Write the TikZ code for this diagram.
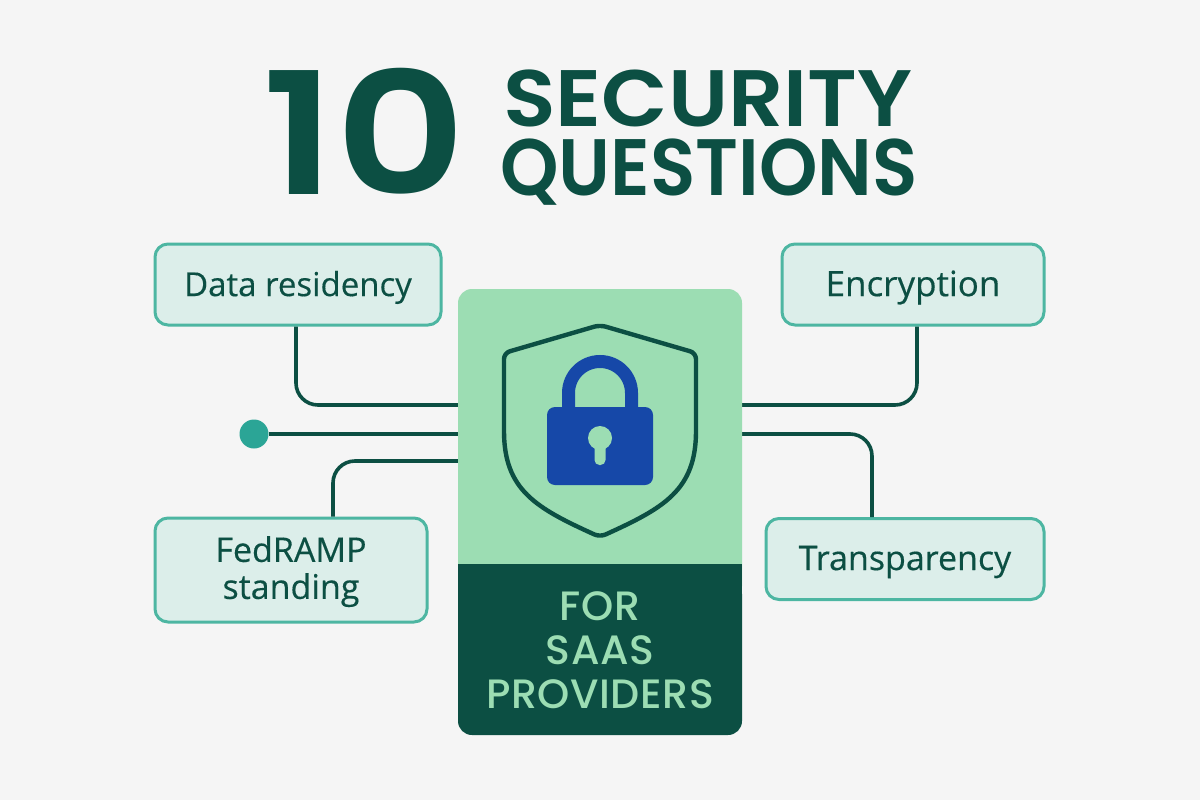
\documentclass[tikz,border=0pt]{standalone}
\usepackage{fontspec}
\usepackage{graphicx}
\setmainfont{Open Sans}
\newfontfamily\headfont{Poppins}[UprightFont=*-SemiBold]
\newfontfamily\boxfont{Open Sans}[FakeBold=0.35]
\newfontfamily\forfont{Poppins}[UprightFont=*-Medium,LetterSpace=1.5]
\newcommand\lwr[1]{\raisebox{-3pt}[\height][\depth]{#1}}
\definecolor{bg}{HTML}{F5F5F5}
\definecolor{dark}{HTML}{0C4F43}
\definecolor{mint}{HTML}{9CDDB3}
\definecolor{tealb}{HTML}{4DB6A2}
\definecolor{pale}{HTML}{DCEEEA}
\definecolor{lock}{HTML}{1648A8}
\definecolor{dot}{HTML}{2BA596}
\tikzset{x=1pt,y=-1pt,
 box/.style={draw=tealb,line width=3pt,fill=pale,rounded corners=13pt,inner sep=0pt,align=center,text=dark,font=\boxfont\fontsize{34}{37}\selectfont},
 wire/.style={draw=dark,line width=3.6pt,rounded corners=22pt},
 head/.style={text=dark,inner sep=0pt}}
\begin{document}
\begin{tikzpicture}
\useasboundingbox (0,0) rectangle (1200,800);
\fill[bg] (0,0) rectangle (1200,800);
\node[head,font=\headfont\fontsize{170}{170}\selectfont] (ten) at (364,131) {\scalebox{1.19}[1]{10}};
\node[head,font=\headfont\fontsize{80}{80}\selectfont] (sec) at (708,98) {\scalebox{1.08}[1]{SECURITY}};
\node[head,font=\headfont\fontsize{80}{80}\selectfont] (que) at (709,172) {\scalebox{.93}[1]{QUESTIONS}};
% wires
\coordinate (l1) at (460,405);\coordinate (l2) at (460,434);\coordinate (l3) at (460,461);
\coordinate (r1) at (740,405);\coordinate (r2) at (740,434);
\node[box,minimum width=286pt,minimum height=81pt] (data) at (298,284.5) {\lwr{\fontsize{33}{37}\selectfont Data residency}};
\node[box,minimum width=262pt,minimum height=81pt] (enc) at (913,284.5) {\lwr{\fontsize{35}{37}\selectfont Encryption}};
\node[box,minimum width=272pt,minimum height=104pt] (fed) at (291,570) {\lwr{\begin{tabular}{@{}c@{}}FedRAMP\\standing\end{tabular}}};
\node[box,minimum width=278pt,minimum height=81pt] (tra) at (905,559) {\lwr{Transparency}};
\node[circle,fill=dot,minimum size=29pt,inner sep=0pt] (d) at (254,434) {};
\draw[wire] (data.south -| 296,0) -- (296,405) -- (l1);
\draw[wire] (enc.south -| 917,0) -- (917,405) -- (r1);
\draw[wire] (d) -- (l2);
\draw[wire] (fed.north -| 333,0) -- (333,461) -- (l3);
\draw[wire] (tra.north -| 872,0) -- (872,434) -- (r2);
% panel
\fill[mint,rounded corners=14pt] (458,289) rectangle (742,600);
\fill[dark,rounded corners=14pt] (458,580) rectangle (742,735);
\fill[dark] (458,564) rectangle (742,600);
% shield
\draw[dark,line width=4.4pt,line join=round,rounded corners=6pt] (600,325) -- (696,353) -- (696,425) .. controls (696,490) and (664,508) .. (600,537) .. controls (536,508) and (504,490) .. (504,425) -- (504,353) -- cycle;
% lock
\draw[lock,line width=13pt] (568.5,412) -- (568.5,393) arc[start angle=180,end angle=0,radius=31.5pt] -- (631.5,412);
\fill[lock,rounded corners=8pt] (547,407) rectangle (653,485);
\fill[mint] (600,438) circle[radius=12pt];
\fill[mint,rounded corners=5pt] (594.5,440) rectangle (605.5,465);
\node[inner sep=0pt,align=center,text=mint,font=\forfont\fontsize{41}{44}\selectfont] (for) at (600,650) {FOR\\SAAS\\PROVIDERS};
\end{tikzpicture}
\end{document}
